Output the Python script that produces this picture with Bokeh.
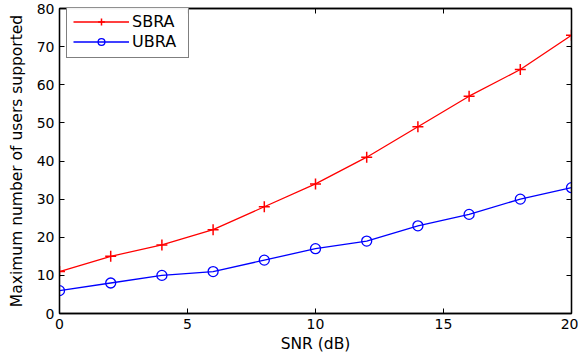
from bokeh.plotting import figure
from bokeh.models import LinearAxis, Range1d, FixedTicker, Legend, LegendItem, Label
from bokeh.embed import file_html
from bokeh.resources import INLINE

snr = [0, 2, 4, 6, 8, 10, 12, 14, 16, 18, 20]
sbra = [11, 15, 18, 22, 28, 34, 41, 49, 57, 64, 73]
ubra = [6, 8, 10, 11, 14, 17, 19, 23, 26, 30, 33]
xticks = [0, 5, 10, 15, 20]
yticks = [0, 10, 20, 30, 40, 50, 60, 70, 80]
caption = "Fig. 3.\u00a0\u00a0\u00a0\u00a0Maximum\u00a0 number\u00a0 of\u00a0 users\u00a0 supported\u00a0 for\u00a0 VBR\u00a0 traffic"

FONT = "DejaVu Sans"

p = figure(width=578, height=362, output_backend="svg", toolbar_location=None,
           x_range=Range1d(0, 20), y_range=Range1d(0, 80),
           min_border_left=59, min_border_right=7, min_border_top=8, min_border_bottom=49,
           x_axis_label="SNR (dB)", y_axis_label="Maximum number of users supported")
p.grid.visible = False
p.outline_line_color = "black"
p.outline_line_width = 1.3
p.background_fill_color = "white"
p.border_fill_color = "white"

for ax in p.xaxis + p.yaxis:
    ax.major_tick_in = 5
    ax.major_tick_out = 0
    ax.minor_tick_in = 0
    ax.minor_tick_out = 0
    ax.axis_line_width = 1.3
    ax.major_tick_line_width = 1
    ax.major_label_text_font = FONT
    ax.major_label_text_font_size = "14px"
    ax.major_label_text_color = "black"
    ax.axis_label_text_font = FONT
    ax.axis_label_text_font_size = "15.5px"
    ax.axis_label_text_font_style = "normal"
    ax.axis_label_text_color = "black"
p.xaxis.ticker = FixedTicker(ticks=xticks)
p.yaxis.ticker = FixedTicker(ticks=yticks)
p.xaxis.axis_label_standoff = 3
p.yaxis.axis_label_standoff = 8
p.xaxis.major_label_standoff = 5
p.yaxis.major_label_standoff = 5

top = LinearAxis(ticker=FixedTicker(ticks=xticks),
                 major_label_overrides={t: "" for t in xticks},
                 major_label_text_font_size="1px", major_label_standoff=0,
                 major_tick_in=5, major_tick_out=0, minor_tick_in=0, minor_tick_out=0,
                 axis_line_width=1.3)
right = LinearAxis(ticker=FixedTicker(ticks=yticks),
                   major_label_overrides={t: "" for t in yticks},
                   major_label_text_font_size="1px", major_label_standoff=0,
                   major_tick_in=5, major_tick_out=0, minor_tick_in=0, minor_tick_out=0,
                   axis_line_width=1.3)
p.add_layout(top, "above")
p.add_layout(right, "right")

l1 = p.line(snr, sbra, line_color="red", line_width=1.3)
m1 = p.scatter(snr, sbra, marker="cross", size=11, line_color="red", line_width=1.5)
l2 = p.line(snr, ubra, line_color="blue", line_width=1.3)
m2 = p.scatter(snr, ubra, marker="circle", size=10, line_color="blue", fill_color=None, line_width=1.3)

legend = Legend(items=[LegendItem(label="SBRA", renderers=[l1, m1]),
                       LegendItem(label="UBRA", renderers=[l2, m2])],
                location=(7, 255))
legend.label_text_font = FONT
legend.label_text_font_size = "16px"
legend.label_text_color = "black"
legend.border_line_color = "black"
legend.border_line_width = 1
legend.margin = 0
legend.padding = 6
legend.spacing = 1
legend.glyph_width = 56
legend.glyph_height = 17
legend.label_height = 17
legend.label_width = 50
legend.label_standoff = 3
p.add_layout(legend)

cap = Label(x=22, y=-54, x_units="screen", y_units="screen", text=caption,
            text_font="Liberation Serif", text_font_size="18px", text_color="black",
            text_baseline="alphabetic", text_align="left")
p.add_layout(cap)

open("out.html", "w").write(file_html(p, INLINE))
